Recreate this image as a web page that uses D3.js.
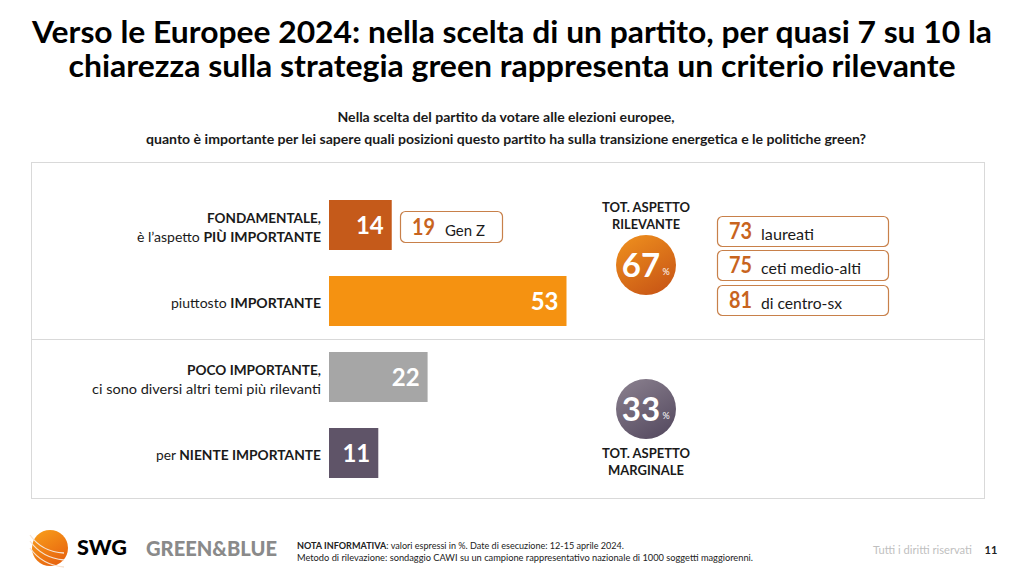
<!DOCTYPE html>
<html><head><meta charset="utf-8">
<script src="https://cdn.jsdelivr.net/npm/d3@7/dist/d3.min.js"></script>
<style>html,body{margin:0;padding:0;background:#fff}svg{display:block}text{font-family:Lato,"Open Sans",sans-serif}</style>
</head><body><svg id="c" width="1024" height="576"></svg>
<script>
const categories=["FONDAMENTALE","IMPORTANTE","POCO IMPORTANTE","NIENTE IMPORTANTE"];
const values=[14,53,22,11];
const barColors=["#C55A1A","#F59211","#A6A6A6","#5F5468"];
const highlightValues=[73,75,81];
const highlightLabels=["laureati","ceti medio-alti","di centro-sx"];
const highlightWidths=[53,100,81];
const titleLines=["Verso le Europee 2024: nella scelta di un partito, per quasi 7 su 10 la","chiarezza sulla strategia green rappresenta un criterio rilevante"];
const subtitleLines=["Nella scelta del partito da votare alle elezioni europee,","quanto è importante per lei sapere quali posizioni questo partito ha sulla transizione energetica e le politiche green?"];

const svg=d3.select("#c");
const defs=svg.append("defs");
function grad(id,a,b){const g=defs.append("linearGradient").attr("id",id).attr("x1",0).attr("y1",0).attr("x2",0.6).attr("y2",1);
 g.append("stop").attr("offset",0).attr("stop-color",a);g.append("stop").attr("offset",1).attr("stop-color",b);}
grad("gO","#F0921E","#CB5A16");grad("gP","#8C8290","#5A4F64");grad("gS","#F9A11B","#E8650F");

function fit(sel,w){sel.attr("textLength",w).attr("lengthAdjust","spacingAndGlyphs");return sel;}
function T(x,y,s,o={}){const t=svg.append("text").attr("x",x).attr("y",y).attr("font-size",o.size||13)
 .attr("font-weight",o.weight||400).attr("fill",o.fill||"#1a1a1a").attr("text-anchor",o.anchor||"start").text(s);
 if(o.w)fit(t,o.w);return t;}

T(512,43,titleLines[0],{size:30,weight:700,anchor:"middle",fill:"#000",w:960});
T(512,77,titleLines[1],{size:30,weight:700,anchor:"middle",fill:"#000",w:887});
T(506,122,subtitleLines[0],{size:13.5,weight:700,anchor:"middle",w:337});
T(506,144,subtitleLines[1],{size:13.5,weight:700,anchor:"middle",w:720});

svg.append("rect").attr("x",31.5).attr("y",162.5).attr("width",953).attr("height",336).attr("fill","#fff").attr("stroke","#D9D9D9");
svg.append("line").attr("x1",32).attr("x2",984).attr("y1",339.5).attr("y2",339.5).attr("stroke","#D9D9D9");

const x=d3.scaleLinear().domain([0,53]).range([329,566.5]);
const y=d3.scaleBand().domain(categories).range([187,491]).paddingInner(26/76).paddingOuter(13/76);
svg.selectAll("rect.bar").data(values).join("rect").attr("class","bar")
 .attr("x",x(0)).attr("y",(d,i)=>y(categories[i])).attr("width",d=>x(d)-x(0)).attr("height",y.bandwidth())
 .attr("fill",(d,i)=>barColors[i]);
svg.selectAll("text.val").data(values).join("text").attr("class","val")
 .attr("x",d=>x(d)-8).attr("y",(d,i)=>y(categories[i])+y.bandwidth()/2+9)
 .attr("text-anchor","end").attr("font-size",24).attr("font-weight",700).attr("fill","#fff").text(d=>d);

function mixed(xr,yy,parts,w){const t=svg.append("text").attr("x",xr).attr("y",yy).attr("text-anchor","end").attr("font-size",14).attr("fill","#1a1a1a");
 parts.forEach(p=>t.append("tspan").attr("font-weight",p[1]?700:400).text(p[0]));if(w)fit(t,w);}
mixed(321,223,[["FONDAMENTALE,",1]],114);
mixed(321,242,[["è l’aspetto ",0],["PIÙ IMPORTANTE",1]],184);
mixed(321,308,[["piuttosto ",0],["IMPORTANTE",1]],150);
mixed(321,375,[["POCO IMPORTANTE,",1]],134);
mixed(321,394,[["ci sono diversi altri temi più rilevanti",0]],229);
mixed(321,460,[["per ",0],["NIENTE IMPORTANTE",1]],165);

function box(bx,by,bw,bh,v,l,lx,lw){svg.append("rect").attr("x",bx+.5).attr("y",by+.5).attr("width",bw).attr("height",bh).attr("rx",5)
 .attr("fill","#fff").attr("stroke","#C8804A").attr("stroke-width",1.2);
 T(bx+12,by+bh/2+8,v,{size:22,weight:700,fill:"#C8641E",w:23});
 T(lx,by+bh/2+9,l,{size:16,w:lw});}
box(400,211,102,31,19,"Gen Z",445,40);
highlightValues.forEach((v,i)=>box(717,[216,250,285][i],171,30,v,highlightLabels[i],761,highlightWidths[i]));

T(646,212,"TOT. ASPETTO",{size:14,weight:700,anchor:"middle",w:88});
T(646,229,"RILEVANTE",{size:14,weight:700,anchor:"middle",w:68});
T(646,458,"TOT. ASPETTO",{size:14,weight:700,anchor:"middle",w:88});
T(646,475,"MARGINALE",{size:14,weight:700,anchor:"middle",w:76});
function bubble(cy,v,f){svg.append("circle").attr("cx",646).attr("cy",cy).attr("r",30).attr("fill",f);
 T(641,cy+12,v,{size:33,weight:700,fill:"#fff",anchor:"middle"});
 T(666,cy+10,"%",{size:9,fill:"#fff",anchor:"middle"});}
bubble(265,"67","url(#gO)");
bubble(409,"33","url(#gP)");

const lg=svg.append("g");
lg.append("circle").attr("cx",50).attr("cy",548).attr("r",18).attr("fill","url(#gS)");
[[-13,-9],[-7,-2],[0,5]].forEach(o=>lg.append("path").attr("d",`M${50-20} ${548+o[0]} Q${50-8} ${548+o[0]+17} ${50+14} ${548+o[1]+14}`).attr("fill","none").attr("stroke","#F6E3D2").attr("stroke-width",1.3));
T(77,555,"SWG",{size:20,weight:900,fill:"#000",w:50});
T(146,556,"GREEN&BLUE",{size:21,weight:900,fill:"#8A8A8A",w:131});
const n=svg.append("text").attr("x",297).attr("y",549).attr("font-size",9.5).attr("fill","#222");
n.append("tspan").attr("font-weight",700).text("NOTA INFORMATIVA");n.append("tspan").text(": valori espressi in %. Date di esecuzione: 12-15 aprile 2024.");fit(n,327);
T(297,561,"Metodo di rilevazione: sondaggio CAWI su un campione rappresentativo nazionale di 1000 soggetti maggiorenni.",{size:9.5,fill:"#222",w:456});
T(873,554,"Tutti i diritti riservati",{size:11,fill:"#BFBFBF",w:99});
T(991,554,"11",{size:11,weight:700,anchor:"middle",fill:"#222"});
</script></body></html>
